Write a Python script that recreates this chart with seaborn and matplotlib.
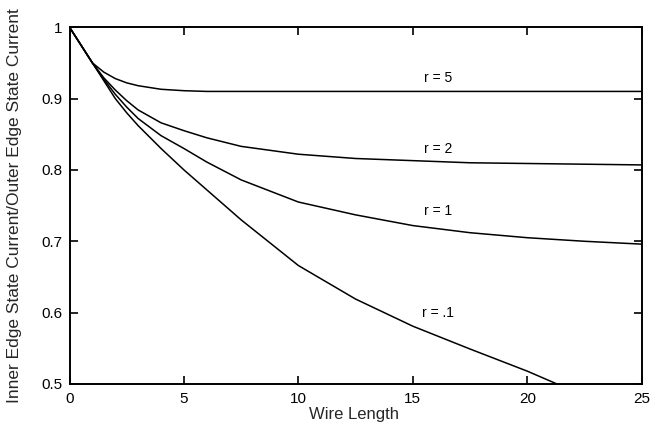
import pandas as pd
import seaborn as sns
import matplotlib.pyplot as plt
from matplotlib.ticker import FormatStrFormatter

# values
wire_length = [0, 1, 1.5, 2, 2.5, 3, 4, 5, 6, 7.5, 10, 12.5, 15, 17.5, 20, 22.5, 25]
r_5 = [1.0, 0.950, 0.937, 0.928, 0.922, 0.918, 0.913, 0.911, 0.910, 0.910, 0.910, 0.910, 0.910, 0.910, 0.910, 0.910, 0.910]
r_2 = [1.0, 0.950, 0.929, 0.912, 0.897, 0.884, 0.866, 0.855, 0.845, 0.833, 0.822, 0.816, 0.813, 0.810, 0.809, 0.808, 0.807]
r_1 = [1.0, 0.950, 0.927, 0.906, 0.888, 0.872, 0.848, 0.830, 0.811, 0.786, 0.755, 0.737, 0.722, 0.712, 0.705, 0.700, 0.696]
# r = .1 runs out of the axes near x = 21.3
wire_length_01 = [0, 1, 1.5, 2, 2.5, 3, 4, 5, 6, 7.5, 10, 12.5, 15, 17.5, 20, 21.3]
r_01 = [1.0, 0.950, 0.925, 0.900, 0.880, 0.862, 0.830, 0.800, 0.772, 0.730, 0.666, 0.619, 0.581, 0.549, 0.518, 0.500]

series_names = ['r = 5', 'r = 2', 'r = 1', 'r = .1']
label_x = [16.1, 16.1, 16.1, 16.1]
label_y = [0.929, 0.830, 0.742, 0.600]

frames = [
    pd.DataFrame({'x': wire_length, 'y': r_5, 'r': 'r = 5'}),
    pd.DataFrame({'x': wire_length, 'y': r_2, 'r': 'r = 2'}),
    pd.DataFrame({'x': wire_length, 'y': r_1, 'r': 'r = 1'}),
    pd.DataFrame({'x': wire_length_01, 'y': r_01, 'r': 'r = .1'}),
]
df = pd.concat(frames, ignore_index=True)

sns.set_theme(style='ticks')
plt.rcParams['font.family'] = ['Liberation Sans', 'DejaVu Sans']

fig = plt.figure(figsize=(6.52, 4.25), dpi=100)
ax = fig.add_axes([0.1066, 0.0965, 0.8776, 0.8395])

sns.lineplot(data=df, x='x', y='y', units='r', estimator=None, color='black',
             linewidth=1.1, sort=False, ax=ax, legend=False)

for name, lx, ly in zip(series_names, label_x, label_y):
    ax.text(lx, ly, name, ha='center', va='center', fontsize=10, color='black')

ax.set_xlim(0, 25)
ax.set_ylim(0.5, 1.0)
ax.set_xticks([0, 5, 10, 15, 20, 25])
ax.set_yticks([0.5, 0.6, 0.7, 0.8, 0.9, 1.0])
ax.xaxis.set_major_formatter(FormatStrFormatter('%g'))
ax.yaxis.set_major_formatter(FormatStrFormatter('%g'))
ax.tick_params(direction='in', length=6, width=1.2, top=True, right=True,
               labelsize=11, colors='black')
ax.tick_params(axis='x', pad=6)
ax.tick_params(axis='y', pad=5)
for side in ax.spines.values():
    side.set_visible(True)
    side.set_linewidth(1.4)
    side.set_color('black')

ax.set_xlabel('Wire Length', fontsize=12)
ax.set_ylabel('Inner Edge State Current/Outer Edge State Current', fontsize=12.5)
ax.xaxis.set_label_coords(0.497, -0.064)
ax.yaxis.set_label_coords(-0.083, 0.5)

fig.savefig('out.png', dpi=100)
